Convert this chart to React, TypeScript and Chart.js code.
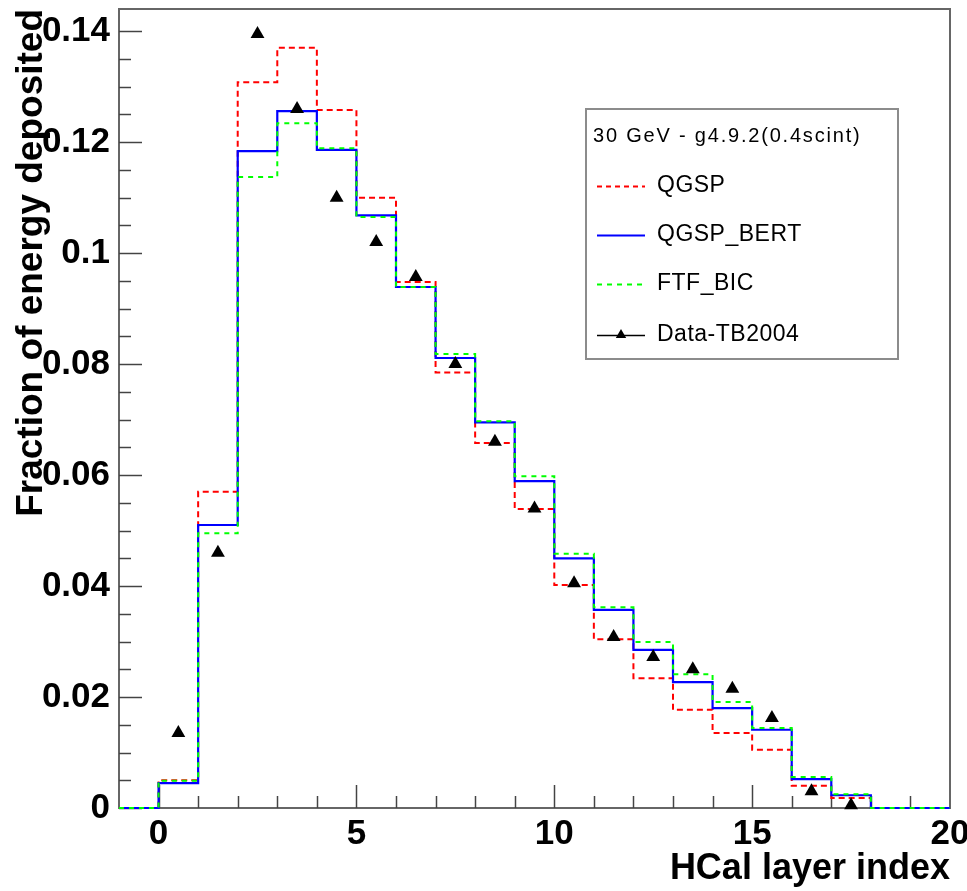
import React, { useEffect, useRef } from 'react';
import { Chart, registerables } from 'chart.js';

Chart.register(...registerables);

// Bin edges of the HCal layer histogram (bins of width 1 from -1 to 20)
const BIN_EDGES = [-1, 0, 1, 2, 3, 4, 5, 6, 7, 8, 9, 10, 11, 12, 13, 14, 15, 16, 17, 18, 19, 20];

// Bin contents, one per bin [-1,0], [0,1], ..., [19,20]
const QGSP = [0, 0.0050, 0.0570, 0.1308, 0.1370, 0.1258, 0.1100, 0.0948, 0.0785, 0.0658, 0.0539, 0.0402, 0.0304, 0.0234, 0.0177, 0.0135, 0.0105, 0.0040, 0.0018, 0, 0];
const QGSP_BERT = [0, 0.0045, 0.0510, 0.1184, 0.1256, 0.1186, 0.1068, 0.0939, 0.0811, 0.0695, 0.0589, 0.0450, 0.0357, 0.0285, 0.0227, 0.0180, 0.0141, 0.0052, 0.0023, 0, 0];
const FTF_BIC = [0, 0.0049, 0.0495, 0.1137, 0.1234, 0.1189, 0.1065, 0.0939, 0.0818, 0.0697, 0.0598, 0.0458, 0.0362, 0.0299, 0.0241, 0.0191, 0.0144, 0.0056, 0.0025, 0, 0];

// Test-beam data points at bin centres
const DATA_X = [0.5, 1.5, 2.5, 3.5, 4.5, 5.5, 6.5, 7.5, 8.5, 9.5, 10.5, 11.5, 12.5, 13.5, 14.5, 15.5, 16.5, 17.5];
const DATA_Y = [0.0135, 0.046, 0.1395, 0.126, 0.110, 0.102, 0.0957, 0.080, 0.066, 0.054, 0.0405, 0.0308, 0.0272, 0.025, 0.0215, 0.0162, 0.003, 0.0005];

const X_TITLE = 'HCal layer index';
const Y_TITLE = 'Fraction of energy deposited';
const LEGEND_TITLE = '30 GeV - g4.9.2(0.4scint)';
const LEGEND_LABELS = ['QGSP', 'QGSP_BERT', 'FTF_BIC', 'Data-TB2004'];

const FONT = '"Liberation Sans", Arial, Helvetica, sans-serif';
const RED = '#ff0000';
const BLUE = '#0000ff';
const GREEN = '#00ff00';

function stepPoints(values: number[]) {
  const pts = values.map((v, i) => ({ x: BIN_EDGES[i], y: v }));
  pts.push({ x: BIN_EDGES[BIN_EDGES.length - 1], y: values[values.length - 1] });
  return pts;
}

const framePlugin = {
  id: 'rootFrame',
  beforeDatasetsDraw(chart: any) {
    const { ctx, chartArea: a, scales } = chart;
    const xs = scales.x;
    const ys = scales.y;
    ctx.save();
    ctx.strokeStyle = '#666666';
    ctx.lineWidth = 2;
    ctx.strokeRect(a.left, a.top, a.right - a.left, a.bottom - a.top);
    ctx.lineWidth = 1.5;
    ctx.strokeStyle = '#444444';
    // y ticks: major every 0.02, minor every 0.005
    for (let k = 0; k <= 28; k++) {
      const v = k * 0.005;
      if (v > ys.max) break;
      const py = Math.round(ys.getPixelForValue(v)) + 0.5;
      const len = k % 4 === 0 ? 23 : 12;
      ctx.beginPath();
      ctx.moveTo(a.left, py);
      ctx.lineTo(a.left + len, py);
      ctx.stroke();
    }
    // x ticks: major every 5, minor every 1
    for (let k = 0; k <= 19; k++) {
      const px = Math.round(xs.getPixelForValue(k)) + 0.5;
      const len = k % 5 === 0 ? 23 : 12;
      ctx.beginPath();
      ctx.moveTo(px, a.bottom);
      ctx.lineTo(px, a.bottom - len);
      ctx.stroke();
    }
    ctx.restore();
  },
  afterDraw(chart: any) {
    const { ctx } = chart;
    const box = { left: 586, top: 109, right: 898, bottom: 359 };
    ctx.save();
    ctx.fillStyle = '#ffffff';
    ctx.fillRect(box.left, box.top, box.right - box.left, box.bottom - box.top);
    ctx.strokeStyle = '#8c8c8c';
    ctx.lineWidth = 2;
    ctx.strokeRect(box.left, box.top, box.right - box.left, box.bottom - box.top);

    ctx.fillStyle = '#000000';
    ctx.textBaseline = 'middle';
    ctx.textAlign = 'left';
    ctx.font = `20px ${FONT}`;
    try { (ctx as any).letterSpacing = '1.8px'; } catch (e) {}
    ctx.fillText(LEGEND_TITLE, 593, 136);
    try { (ctx as any).letterSpacing = '0.5px'; } catch (e) {}

    const rows = [186, 235, 284, 335];
    const x0 = 597;
    const x1 = 645;
    ctx.font = `23px ${FONT}`;
    LEGEND_LABELS.forEach((label, i) => {
      const y = rows[i];
      ctx.save();
      ctx.lineWidth = 2;
      if (i === 0) { ctx.strokeStyle = RED; ctx.setLineDash([5, 4]); }
      else if (i === 1) { ctx.strokeStyle = BLUE; }
      else if (i === 2) { ctx.strokeStyle = GREEN; ctx.setLineDash([5, 5]); }
      else { ctx.strokeStyle = '#000000'; ctx.lineWidth = 1.5; }
      ctx.beginPath();
      ctx.moveTo(x0, y + 0.5);
      ctx.lineTo(x1, y + 0.5);
      ctx.stroke();
      if (i === 3) {
        const cx = (x0 + x1) / 2;
        const r = 6;
        ctx.fillStyle = '#000000';
        ctx.beginPath();
        ctx.moveTo(cx, y - r);
        ctx.lineTo(cx + r * 0.866, y + r * 0.5);
        ctx.lineTo(cx - r * 0.866, y + r * 0.5);
        ctx.closePath();
        ctx.fill();
      }
      ctx.restore();
      ctx.fillStyle = '#000000';
      ctx.fillText(label, 657, y);
    });
    ctx.restore();
  },
};

function zeroPad(scale: any) {
  scale.paddingTop = 0;
  scale.paddingBottom = 0;
  scale.paddingLeft = 0;
  scale.paddingRight = 0;
}

export default function App() {
  const canvasRef = useRef<HTMLCanvasElement | null>(null);

  useEffect(() => {
    document.body.style.margin = '0';
    document.body.style.overflow = 'hidden';
    const canvas = canvasRef.current;
    if (!canvas) return;
    const chart = new Chart(canvas, {
      type: 'line',
      data: {
        datasets: [
          {
            label: LEGEND_LABELS[0],
            data: stepPoints(QGSP),
            stepped: 'before',
            borderColor: RED,
            borderWidth: 2,
            borderDash: [6, 4],
            pointRadius: 0,
            fill: false,
            clip: 4,
            order: 4,
          },
          {
            label: LEGEND_LABELS[1],
            data: stepPoints(QGSP_BERT),
            stepped: 'before',
            borderColor: BLUE,
            borderWidth: 2.2,
            pointRadius: 0,
            fill: false,
            clip: 4,
            order: 3,
          },
          {
            label: LEGEND_LABELS[2],
            data: stepPoints(FTF_BIC),
            stepped: 'before',
            borderColor: GREEN,
            borderWidth: 2,
            borderDash: [5, 5],
            pointRadius: 0,
            fill: false,
            clip: 4,
            order: 2,
          },
          {
            type: 'scatter',
            label: LEGEND_LABELS[3],
            data: DATA_X.map((x, i) => ({ x, y: DATA_Y[i] })),
            showLine: false,
            pointStyle: 'triangle',
            pointRadius: 8,
            backgroundColor: '#000000',
            borderColor: '#000000',
            borderWidth: 0,
            clip: 10,
            order: 1,
          } as any,
        ],
      },
      options: {
        animation: false,
        responsive: false,
        devicePixelRatio: 1,
        layout: { padding: { top: 9, right: 17, left: 0, bottom: 0 } },
        plugins: {
          legend: { display: false },
          title: { display: false },
          tooltip: { enabled: false },
        },
        scales: {
          x: {
            type: 'linear',
            min: -1,
            max: 20,
            grid: { display: false, drawTicks: false },
            border: { display: false },
            ticks: {
              stepSize: 5,
              includeBounds: false,
              maxRotation: 0,
              autoSkip: false,
              padding: 5,
              color: '#000000',
              font: { family: FONT, size: 35, weight: 'bold' },
              callback: (v: any) => String(v),
            },
            title: {
              display: true,
              text: X_TITLE,
              align: 'end',
              color: '#000000',
              font: { family: FONT, size: 36, weight: 'bold', lineHeight: 1.2 },
              padding: { top: 0, bottom: 0 },
            },
            afterFit: (s: any) => { s.height = 83; zeroPad(s); },
          },
          y: {
            type: 'linear',
            min: 0,
            max: 0.144,
            grid: { display: false, drawTicks: false },
            border: { display: false },
            ticks: {
              stepSize: 0.02,
              includeBounds: false,
              padding: 9,
              color: '#000000',
              font: { family: FONT, size: 35, weight: 'bold' },
              callback: (v: any) => String(parseFloat(Number(v).toFixed(3))),
            },
            title: {
              display: true,
              text: Y_TITLE,
              align: 'end',
              color: '#000000',
              font: { family: FONT, size: 37, weight: 'bold', lineHeight: 1.2 },
              padding: { top: 10, bottom: 0 },
            },
            afterFit: (s: any) => { s.width = 119; zeroPad(s); },
          },
        },
      } as any,
      plugins: [framePlugin],
    });
    return () => chart.destroy();
  }, []);

  return (
    <div style={{ width: 967, height: 891, background: '#ffffff' }}>
      <canvas ref={canvasRef} width={967} height={891} style={{ display: 'block' }} />
    </div>
  );
}
